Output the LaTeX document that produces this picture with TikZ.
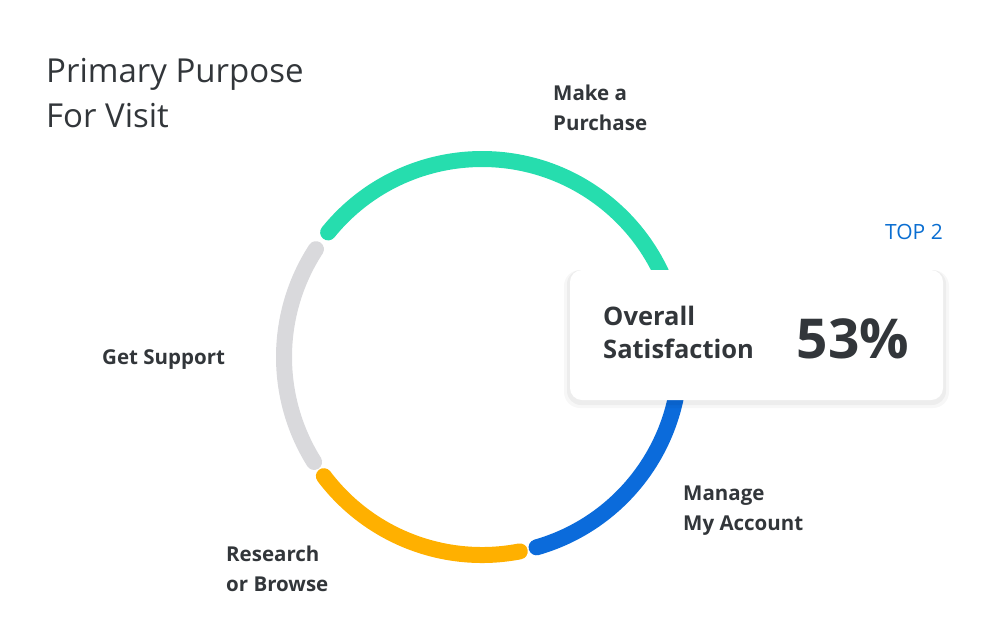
\documentclass[tikz,border=0pt]{standalone}
\usepackage{fontspec}
\setmainfont{Open Sans}
\definecolor{cgreen}{HTML}{26DDAE}
\definecolor{cblue}{HTML}{0B6BDB}
\definecolor{cyellow}{HTML}{FFB000}
\definecolor{cgray}{HTML}{D9D9DC}
\definecolor{ctext}{HTML}{32363A}
\definecolor{ctop}{HTML}{0A6ED1}
\tikzset{seg/.style={line width=16pt,line cap=round},
lbl/.style={anchor=north west,align=left,font=\fontsize{20.5}{30}\selectfont\bfseries,text=ctext,inner sep=0pt}}
\begin{document}
\begin{tikzpicture}[x=1pt,y=-1pt]
\useasboundingbox (0,0) rectangle (992,641);
\coordinate (c) at (482,357);
\draw[seg,cgray] ([shift={(147:198 and -198)}]c) arc[start angle=147,end angle=212,x radius=198,y radius=-198];
\draw[seg,cgreen] ([shift={(141:198 and -198)}]c) arc[start angle=141,end angle=5,x radius=198,y radius=-198];
\draw[seg,cblue] ([shift={(5:198 and -198)}]c) arc[start angle=5,end angle=-74,x radius=198,y radius=-198];
\draw[seg,cyellow] ([shift={(-79:198 and -198)}]c) arc[start angle=-79,end angle=-143,x radius=198,y radius=-198];
\node[anchor=north west,align=left,font=\fontsize{33}{45}\selectfont,text=ctext,inner sep=0pt] (title) at (46,58) {Primary Purpose\\For Visit};
\node[lbl] (mp) at (553,85) {Make a\\Purchase};
\node[lbl] (gs) at (102,349) {Get Support};
\node[lbl] (rb) at (226,546) {Research\\or Browse};
\node[lbl] (ma) at (683,486) {Manage\\My Account};
\node[anchor=north east,font=\fontsize{21}{22}\selectfont,text=ctop,inner sep=0pt] (top) at (943,224) {TOP 2};
\fill[black,opacity=0.03,rounded corners=16pt] (564,270) rectangle (949,408);
\fill[black,opacity=0.04,rounded corners=14pt] (567,270) rectangle (946,405);
\fill[white,rounded corners=12pt] (570,270) rectangle (943,400);
\node[anchor=north west,align=left,font=\fontsize{25.5}{33}\selectfont\bfseries,text=ctext,inner sep=0pt] (os) at (603,306) {Overall\\Satisfaction};
\node[anchor=center,font=\fontsize{55}{60}\selectfont\bfseries,text=ctext,inner sep=0pt] (pct) at (853,339) {53\%};
\end{tikzpicture}
\end{document}
